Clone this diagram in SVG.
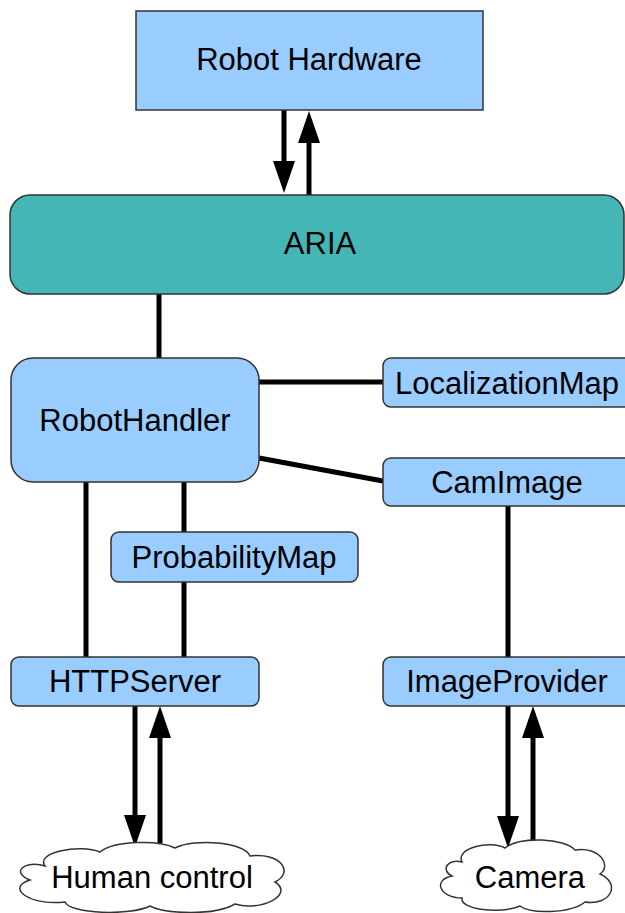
<svg xmlns="http://www.w3.org/2000/svg" width="625" height="913" viewBox="0 0 625 913">
  <defs>
    <marker id="head" viewBox="0 0 32 22" refX="0" refY="11" markerWidth="32" markerHeight="22" markerUnits="userSpaceOnUse" orient="auto">
      <path d="M0,0 L32,11 L0,22 Z" fill="#000"/>
    </marker>
  </defs>
  <style>
    .box { fill: #99ccff; stroke: #333; stroke-width: 1.5; }
    .aria { fill: #45b6b6; stroke: #333; stroke-width: 1.5; }
    .cloud { fill: #fff; stroke: #333; stroke-width: 1.5; }
    .lbl { font-family: "Liberation Sans", Arial, sans-serif; font-size: 31px; fill: #000; text-anchor: middle; }
    .link { stroke: #000; stroke-width: 5; fill: none; }
    .arr { stroke: #000; stroke-width: 5; fill: none; marker-end: url(#head); }
  </style>

  <g id="connectors">
    <line class="arr" x1="284" y1="110" x2="284" y2="161"/>
    <line class="arr" x1="309" y1="195" x2="309" y2="143"/>
    <line class="link" x1="159" y1="294" x2="159" y2="358"/>
    <line class="link" x1="259" y1="382" x2="383" y2="382"/>
    <line class="link" x1="259" y1="458" x2="383" y2="481"/>
    <line class="link" x1="86" y1="482" x2="86" y2="657"/>
    <line class="link" x1="184" y1="482" x2="184" y2="532"/>
    <line class="link" x1="184" y1="582" x2="184" y2="657"/>
    <line class="link" x1="508" y1="506" x2="508" y2="657"/>
    <line class="arr" x1="135" y1="706" x2="135" y2="815"/>
    <line class="arr" x1="160" y1="843" x2="160" y2="738"/>
    <line class="arr" x1="508" y1="706" x2="508" y2="816"/>
    <line class="arr" x1="533" y1="843" x2="533" y2="738"/>
  </g>

  <g id="robot-hardware">
    <rect class="box" x="136" y="11" width="347" height="99"/>
    <text class="lbl" x="309" y="70">Robot Hardware</text>
  </g>

  <g id="aria">
    <rect class="aria" x="10" y="195" width="614" height="99" rx="20"/>
    <text class="lbl" x="320" y="254">ARIA</text>
  </g>

  <g id="robot-handler">
    <rect class="box" x="11" y="358" width="248" height="124" rx="22"/>
    <text class="lbl" x="135" y="431">RobotHandler</text>
  </g>

  <g id="localization-map">
    <rect class="box" x="383" y="358" width="250" height="49" rx="8"/>
    <text class="lbl" x="507" y="394">LocalizationMap</text>
  </g>

  <g id="cam-image">
    <rect class="box" x="383" y="458" width="250" height="48" rx="8"/>
    <text class="lbl" x="507" y="493">CamImage</text>
  </g>

  <g id="probability-map">
    <rect class="box" x="111" y="532" width="247" height="50" rx="8"/>
    <text class="lbl" x="234" y="568">ProbabilityMap</text>
  </g>

  <g id="http-server">
    <rect class="box" x="11" y="657" width="248" height="49" rx="8"/>
    <text class="lbl" x="135" y="692">HTTPServer</text>
  </g>

  <g id="image-provider">
    <rect class="box" x="383" y="657" width="250" height="49" rx="8"/>
    <text class="lbl" x="507" y="692">ImageProvider</text>
  </g>

  <g id="human-control">
    <path class="cloud" d="M45 866 C35 852,80 844,100 852 C115 840,160 840,175 848 C195 838,245 842,250 856 C280 852,295 872,275 882 C295 895,260 912,235 904 C215 916,165 914,150 906 C130 916,70 914,65 902 C30 906,5 888,30 880 C10 872,25 860,45 866 Z"/>
    <text class="lbl" x="152" y="888">Human control</text>
  </g>

  <g id="camera">
    <path class="cloud" d="M462 862 C455 848,490 840,505 848 C520 836,565 838,575 850 C600 846,612 866,600 874 C622 884,610 906,585 902 C570 914,530 914,520 906 C500 914,460 910,462 898 C440 898,432 880,452 876 C440 870,448 858,462 862 Z"/>
    <text class="lbl" x="530" y="888">Camera</text>
  </g>
</svg>
